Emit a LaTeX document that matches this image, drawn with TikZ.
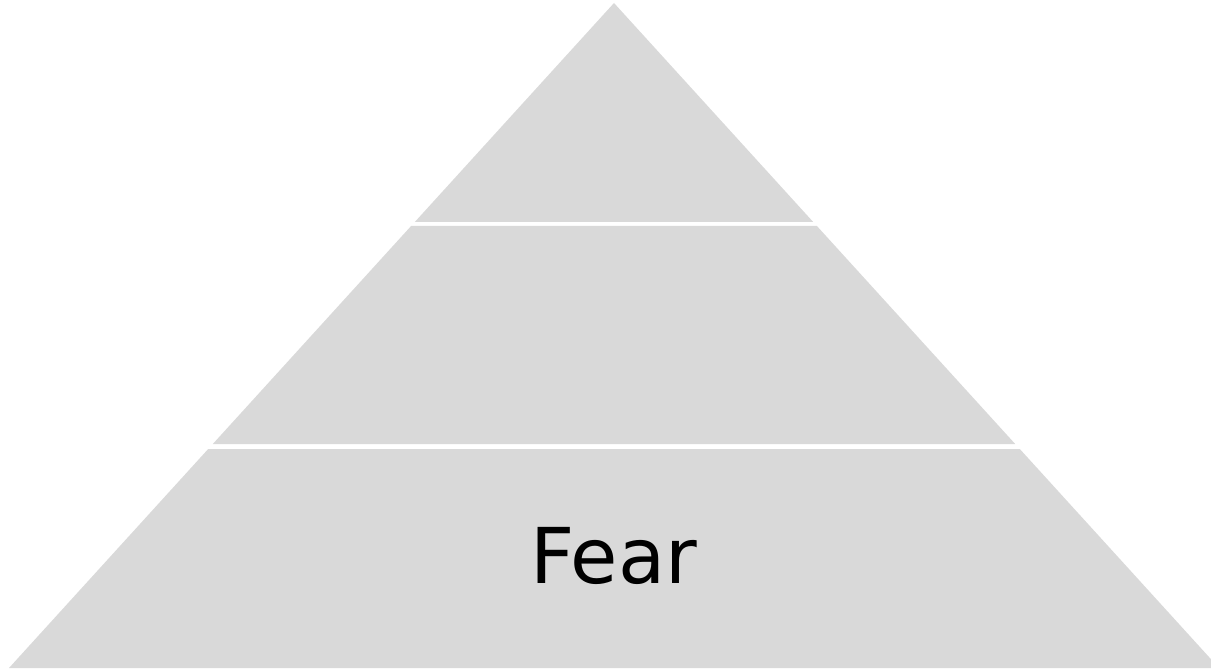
\documentclass[tikz,border=0pt]{standalone}
\usepackage{fontspec}
\setmainfont{DejaVu Sans}
\definecolor{tiergray}{HTML}{D9D9D9}
\begin{document}
\begin{tikzpicture}[x=1pt,y=-1pt,
  tier/.style={fill=tiergray,draw=none},
  label/.style={font=\fontsize{77}{90}\selectfont,text=black,inner sep=0pt,anchor=base}]
\useasboundingbox (0,0) rectangle (1211,671);
\clip (0,0) rectangle (1211,671);
\fill[tier] (614,3) -- (813.2,222) -- (414.8,222) -- cycle;
\fill[tier] (411.1,226) -- (816.9,226) -- (1015.2,444) -- (212.8,444) -- cycle;
\fill[tier] (208.2,449) -- (1019.8,449) -- (1219,668) -- (9,668) -- cycle;
\node[label] (fear) at (614,583) {Fear};
\end{tikzpicture}
\end{document}
